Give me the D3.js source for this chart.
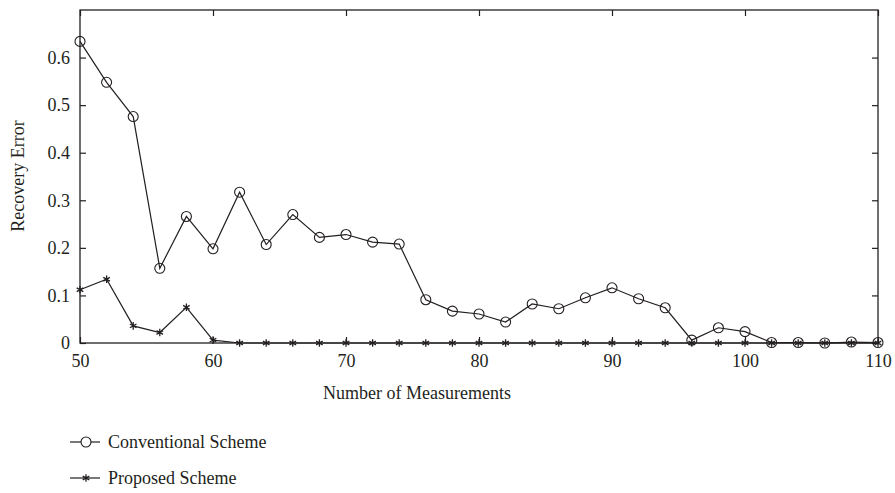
<!DOCTYPE html>
<html>
<head>
<meta charset="utf-8">
<script src="https://cdn.jsdelivr.net/npm/d3@7"></script>
<style>
  body { margin: 0; background: #fff; }
  text { font-family: "Liberation Serif", "DejaVu Serif", serif; fill: #231f20; }
</style>
</head>
<body>
<script>
// chart values
var measurements = d3.range(50, 111, 2);
var conventional = [0.634, 0.548, 0.476, 0.157, 0.266, 0.198, 0.317, 0.207, 0.270, 0.222,
  0.228, 0.212, 0.208, 0.091, 0.067, 0.061, 0.044, 0.082, 0.072, 0.095,
  0.116, 0.093, 0.074, 0.006, 0.032, 0.024, 0.001, 0.001, 0.000, 0.002, 0.001];
var proposed = [0.112, 0.134, 0.036, 0.022, 0.075, 0.006, 0, 0, 0, 0,
  0, 0, 0, 0, 0, 0, 0, 0, 0, 0,
  0, 0, 0, 0, 0, 0, 0, 0, 0, 0, 0];
var xTicks = [50, 60, 70, 80, 90, 100, 110];
var yTicks = [0, 0.1, 0.2, 0.3, 0.4, 0.5, 0.6];
var seriesNames = ['Conventional Scheme', 'Proposed Scheme'];

var width = 895, height = 493;
var plotL = 80, plotR = 878, plotT = 10, plotB = 343;
var ink = '#231f20';
var fontSize = '18px';

var svg = d3.select('body').append('svg').attr('width', width).attr('height', height);

var x = d3.scaleLinear().domain([50, 110]).range([plotL, plotR]);
var y = d3.scaleLinear().domain([0, 0.7]).range([plotB, plotT]);

// frame
svg.append('rect')
  .attr('x', plotL).attr('y', plotT)
  .attr('width', plotR - plotL).attr('height', plotB - plotT)
  .attr('fill', 'none').attr('stroke', ink).attr('stroke-width', 1.3);

// axes with inward ticks
var xAxis = svg.append('g').attr('transform', 'translate(0,' + plotB + ')')
  .call(d3.axisBottom(x).tickValues(xTicks).tickSize(-6).tickPadding(11).tickFormat(d3.format('d')));
var xTop = svg.append('g').attr('transform', 'translate(0,' + plotT + ')')
  .call(d3.axisTop(x).tickValues(xTicks).tickSize(-6).tickFormat(''));
var yAxis = svg.append('g').attr('transform', 'translate(' + plotL + ',0)')
  .call(d3.axisLeft(y).tickValues(yTicks).tickSize(-6).tickPadding(10)
    .tickFormat(function(d){ return d === 0 ? '0' : d3.format('.1f')(d); }));
var yRight = svg.append('g').attr('transform', 'translate(' + plotR + ',0)')
  .call(d3.axisRight(y).tickValues(yTicks).tickSize(-6).tickFormat(''));

[xAxis, xTop, yAxis, yRight].forEach(function(g){
  g.select('.domain').remove();
  g.selectAll('line').attr('stroke', ink).attr('stroke-width', 1.2);
  g.selectAll('text').style('font-size', fontSize).style('font-family', '"Liberation Serif", serif').attr('fill', ink);
});

// axis titles
svg.append('text')
  .attr('x', 417).attr('y', 399)
  .attr('text-anchor', 'middle')
  .style('font-size', fontSize)
  .text('Number of Measurements');

svg.append('text')
  .attr('transform', 'translate(24,176) rotate(-90)')
  .attr('text-anchor', 'middle')
  .style('font-size', fontSize)
  .text('Recovery Error');

var line = d3.line()
  .x(function(d){ return x(d[0]); })
  .y(function(d){ return y(d[1]); });

var convData = measurements.map(function(m, i){ return [m, conventional[i]]; });
var propData = measurements.map(function(m, i){ return [m, proposed[i]]; });

var star = d3.symbol().type(d3.symbolAsterisk).size(40);

function drawStar(sel) {
  sel.append('path')
    .attr('d', star)
    .attr('fill', 'none')
    .attr('stroke', ink)
    .attr('stroke-width', 1.3);
}

// proposed first so that the conventional circles sit on top at the end
svg.append('path').datum(propData)
  .attr('d', line).attr('fill', 'none').attr('stroke', ink).attr('stroke-width', 1.2);
svg.selectAll('.star').data(propData).enter()
  .append('g').attr('class', 'star')
  .attr('transform', function(d){ return 'translate(' + x(d[0]) + ',' + y(d[1]) + ')'; })
  .call(drawStar);

svg.append('path').datum(convData)
  .attr('d', line).attr('fill', 'none').attr('stroke', ink).attr('stroke-width', 1.2);
svg.selectAll('.circ').data(convData).enter()
  .append('circle').attr('class', 'circ')
  .attr('cx', function(d){ return x(d[0]); })
  .attr('cy', function(d){ return y(d[1]); })
  .attr('r', 5)
  .attr('fill', 'none')
  .attr('stroke', ink)
  .attr('stroke-width', 1.1);

// legend
var legend = svg.selectAll('.legend').data(seriesNames).enter()
  .append('g').attr('class', 'legend')
  .attr('transform', function(d, i){ return 'translate(70,' + (442 + i * 36) + ')'; });

legend.append('line')
  .attr('x1', 0).attr('x2', 30).attr('y1', 0).attr('y2', 0)
  .attr('stroke', ink).attr('stroke-width', 1.2);

legend.each(function(d, i){
  var g = d3.select(this);
  if (i === 0) {
    g.append('circle').attr('cx', 16).attr('cy', 0).attr('r', 5)
      .attr('fill', '#fff').attr('stroke', ink).attr('stroke-width', 1.1);
  } else {
    g.append('g').attr('transform', 'translate(16,0)').call(drawStar);
  }
});

legend.append('text')
  .attr('x', 38).attr('y', 6)
  .style('font-size', fontSize)
  .text(function(d){ return d; });
</script>
</body>
</html>
